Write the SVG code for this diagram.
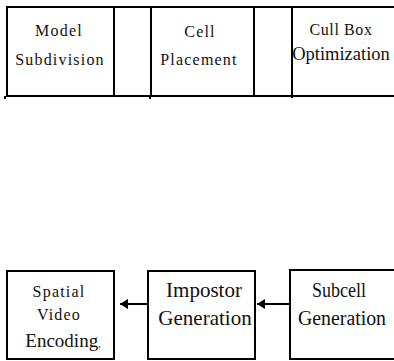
<svg xmlns="http://www.w3.org/2000/svg" width="394" height="361" viewBox="0 0 394 361">
<defs>
<style>
.b{fill:none;stroke:#000;stroke-width:2}
.t{fill:#111;text-anchor:middle}
.s{font-size:16px;letter-spacing:1.2px}
.l{font-size:21px}
.c{stroke:#000;stroke-width:2;fill:none}
</style>
<marker id="ah" viewBox="0 0 8 10" refX="8" refY="5" markerWidth="4" markerHeight="5" orient="auto" markerUnits="strokeWidth">
<path d="M0,0 L8,5 L0,10 Z" fill="#000"/>
</marker>
</defs>
<rect width="394" height="361" fill="#fff"/>
<g font-family="'Liberation Serif', 'Times New Roman', serif">
<g id="model-subdivision">
<rect class="b" x="7" y="7" width="107" height="89"/>
<line class="c" x1="5" y1="96" x2="5" y2="99" stroke-width="1"/>
<text class="t s" x="59" y="36">Model</text>
<text class="t s" x="60" y="65" letter-spacing="1.5">Subdivision</text>
</g>
<g id="gap-1">
<rect class="b" x="114" y="7" width="37" height="89"/>
<line class="c" x1="150" y1="96" x2="150" y2="99" stroke-width="1"/>
</g>
<g id="cell-placement">
<rect class="b" x="151" y="7" width="103" height="89"/>
<text class="t s" x="200" y="37">Cell</text>
<text class="t s" x="199" y="65">Placement</text>
</g>
<g id="gap-2">
<rect class="b" x="254" y="7" width="38" height="89"/>
</g>
<g id="cull-box-optimization">
<path class="b" d="M292,7 H396 M292,7 V98 M292,96 H396"/>
<text class="t" x="341" y="35" font-size="16" letter-spacing="0.6">Cull Box</text>
<text class="t" x="341" y="60" font-size="18.5">Optimization</text>
</g>
<g id="spatial-video-encoding">
<rect class="b" x="7" y="271" width="107" height="88"/>
<text class="t s" x="59" y="297">Spatial</text>
<text class="t s" x="59" y="320">Video</text>
<text class="t" x="63" y="347" font-size="19">Encoding<tspan font-size="10">,</tspan></text>
</g>
<g id="impostor-generation">
<rect class="b" x="148" y="271" width="107" height="88"/>
<text class="t l" x="204" y="297">Impostor</text>
<text class="t l" x="205" y="325">Generation</text>
</g>
<g id="subcell-generation">
<path class="b" d="M396,270 H290 V359 H396"/>
<text class="t" x="339" y="297" font-size="20" textLength="54" lengthAdjust="spacingAndGlyphs">Subcell</text>
<text class="t" x="342" y="325" font-size="20" textLength="88" lengthAdjust="spacingAndGlyphs">Generation</text>
</g>
</g>
<g id="connectors">
<line class="c" x1="147" y1="304" x2="120" y2="304" marker-end="url(#ah)"/>
<line class="c" x1="289" y1="304" x2="257" y2="304" marker-end="url(#ah)"/>
</g>
</svg>
